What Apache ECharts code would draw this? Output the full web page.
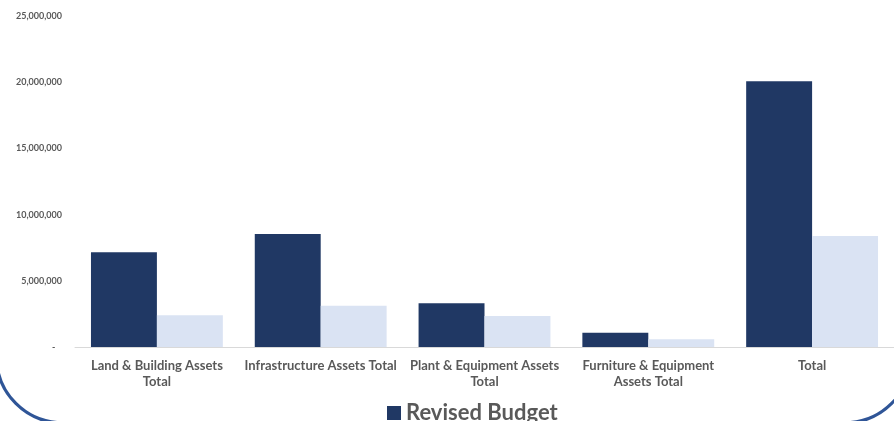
<!DOCTYPE html>
<html><head><meta charset="utf-8">
<script src="https://cdn.jsdelivr.net/npm/echarts@6/dist/echarts.min.js"></script>
<style>html,body{margin:0;padding:0;background:#fff}#c{width:894px;height:421px}</style>
</head><body><div id="c"></div>
<script>
const categories = ['Land & Building Assets\nTotal', 'Infrastructure Assets Total', 'Plant & Equipment Assets\nTotal', 'Furniture & Equipment\nAssets Total', 'Total'];
const revisedBudget = [7150000, 8530000, 3300000, 1080000, 20070000];
const actual = [2390000, 3120000, 2340000, 580000, 8380000];
const yTicks = [0, 5000000, 10000000, 15000000, 20000000, 25000000];

const chart = echarts.init(document.getElementById('c'), null, {renderer: 'canvas'});
const fontFam = 'Lato, "Open Sans", sans-serif';
chart.setOption({
  animation: false,
  backgroundColor: '#ffffff',
  grid: {left: 75, right: 0, top: 16, bottom: 74, containLabel: false},
  legend: {
    data: ['Revised Budget'],
    left: 382, top: 397,
    itemWidth: 14, itemHeight: 14, itemGap: 4,
    icon: 'rect',
    textStyle: {fontSize: 22, fontWeight: 'bold', color: '#595959', fontFamily: fontFam}
  },
  xAxis: {
    type: 'category',
    data: categories,
    axisLine: {lineStyle: {color: '#D9D9D9', width: 1}},
    axisTick: {show: false},
    axisLabel: {interval: 0, fontSize: 13, fontWeight: 'bold', color: '#595959', fontFamily: fontFam, lineHeight: 16, margin: 11}
  },
  yAxis: {
    type: 'value',
    min: yTicks[0], max: yTicks[yTicks.length - 1], interval: yTicks[1] - yTicks[0],
    splitLine: {show: false},
    axisLine: {show: false},
    axisTick: {show: false},
    axisLabel: {
      fontSize: 9, fontWeight: 'bold', color: '#595959', fontFamily: fontFam, margin: 13,
      formatter: v => v === 0 ? '-   ' : v.toLocaleString('en-US')
    }
  },
  series: [
    {name: 'Revised Budget', type: 'bar', data: revisedBudget, barGap: '0%', barCategoryGap: '19.5%',
     itemStyle: {color: '#203864'}},
    {name: 'Actual', type: 'bar', data: actual, barGap: '0%', barCategoryGap: '19.5%',
     itemStyle: {color: '#DAE3F3'}}
  ],
  graphic: [{
    type: 'rect', silent: true, z: 100,
    shape: {x: -3.5, y: -300, width: 914.5, height: 722.8, r: 66},
    style: {fill: null, stroke: '#2F5597', lineWidth: 3.2}
  }]
});
</script></body></html>
